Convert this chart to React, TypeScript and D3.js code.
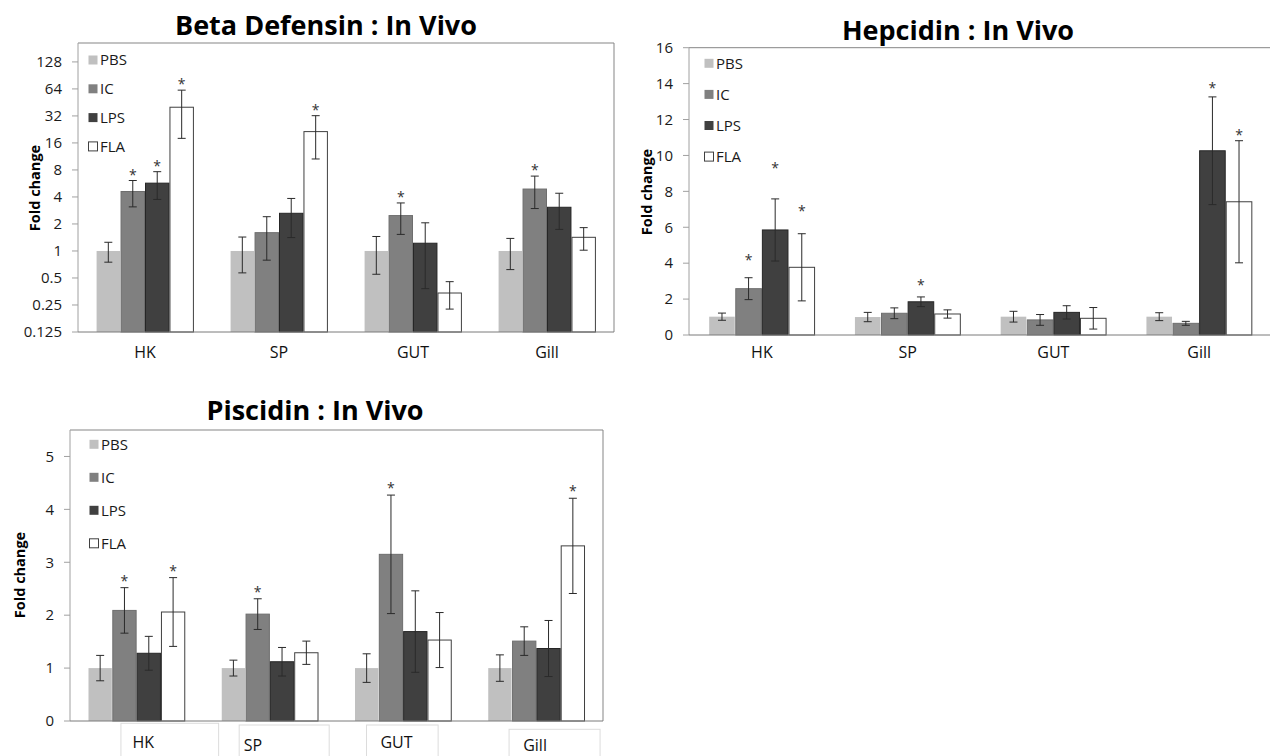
import * as d3 from 'd3'

const categories = ['HK', 'SP', 'GUT', 'Gill']
const treatments = ['PBS', 'IC', 'LPS', 'FLA']
const fills = ['#c0c0c0', '#808080', '#404040', '#ffffff']
const strokes = ['none', '#6e6e6e', '#262626', '#404040']

// Beta defensin (log2 axis)
const betaPBS = [1.0, 1.0, 1.0, 1.0]
const betaPBSErr = [0.25, 0.43, 0.45, 0.38]
const betaIC = [4.6, 1.6, 2.48, 4.9]
const betaICErr = [1.5, 0.81, 0.95, 1.93]
const betaLPS = [5.7, 2.63, 1.22, 3.07]
const betaLPSErr = [1.95, 1.22, 0.84, 1.33]
const betaFLA = [40, 21.4, 0.34, 1.42]
const betaFLAErr = [22, 10.8, 0.115, 0.4]
const betaSigIC = ['HK', 'GUT', 'Gill']
const betaSigLPS = ['HK']
const betaSigFLA = ['HK', 'SP']
const betaTicks = [0.125, 0.25, 0.5, 1, 2, 4, 8, 16, 32, 64, 128]

// Hepcidin
const hepPBS = [1.02, 1.0, 1.02, 1.02]
const hepPBSErr = [0.2, 0.26, 0.3, 0.22]
const hepIC = [2.58, 1.21, 0.84, 0.65]
const hepICErr = [0.61, 0.3, 0.3, 0.11]
const hepLPS = [5.85, 1.85, 1.26, 10.26]
const hepLPSErr = [1.73, 0.27, 0.37, 3.0]
const hepFLA = [3.77, 1.17, 0.93, 7.42]
const hepFLAErr = [1.87, 0.23, 0.6, 3.4]
// level (fold change) at which each asterisk sits
const hepStarIC = [4.36, null, null, null]
const hepStarLPS = [9.47, 2.97, null, 13.9]
const hepStarFLA = [7.07, null, null, 11.3]
const hepTicks = [0, 2, 4, 6, 8, 10, 12, 14, 16]

// Piscidin
const piscPBS = [1.0, 1.0, 1.0, 1.0]
const piscPBSErr = [0.24, 0.15, 0.27, 0.25]
const piscIC = [2.09, 2.02, 3.15, 1.51]
const piscICErr = [0.43, 0.29, 1.12, 0.27]
const piscLPS = [1.28, 1.12, 1.69, 1.37]
const piscLPSErr = [0.32, 0.27, 0.77, 0.53]
const piscFLA = [2.06, 1.29, 1.53, 3.31]
const piscFLAErr = [0.65, 0.22, 0.52, 0.9]
const piscSigIC = ['HK', 'SP', 'GUT']
const piscSigFLA = ['HK', 'Gill']
const piscTicks = [0, 1, 2, 3, 4, 5]

const FONT = "'Open Sans', sans-serif"

type Series = { mean: number[]; err: number[]; star: (number | null | boolean)[] }

type PanelProps = {
  title: string
  titleX: number
  titleY: number
  box: { x0: number; x1: number; y0: number; y1: number }
  y: any
  ticks: number[]
  series: Series[]
  legend: { x: number; y: number; step: number }
  ylab: { x: number; y: number }
  xlabY: number
  starMode: 'offset' | 'level'
  starOffset?: number
  labelNudge?: { dx: number; dy: number; box?: [number, number, number] }[]
}

const flags = (sig: string[]) => categories.map((c) => sig.includes(c))

function Panel(p: PanelProps) {
  const { x0, x1, y0, y1 } = p.box
  const xOuter = d3.scaleBand().domain(categories).range([x0, x1]).paddingInner(0.27).paddingOuter(0.135)
  const xInner = d3.scaleBand().domain(treatments).range([0, xOuter.bandwidth()])
  const y = p.y
  const yMin = y.domain()[0]
  const cap = 4

  return (
    <g fontFamily={FONT}>
      <text x={p.titleX} y={p.titleY} textAnchor="middle" fontSize={27} fontWeight="bold" fill="#000">
        {p.title}
      </text>
      {/* frame */}
      <line x1={x0} x2={x1} y1={y0} y2={y0} stroke="#858585" />
      <line x1={x1} x2={x1} y1={y0} y2={y1} stroke="#858585" />
      <line x1={x0} x2={x0} y1={y0} y2={y1} stroke="#a0a0a0" />
      {p.ticks.map((t) => (
        <g key={t}>
          <line x1={x0 - 6} x2={x0} y1={y(t)} y2={y(t)} stroke="#a0a0a0" />
          <text x={x0 - 16} y={y(t)} dy="0.35em" textAnchor="end" fontSize={15} fill="#1a1a1a">
            {String(t)}
          </text>
        </g>
      ))}
      <text
        transform={`translate(${p.ylab.x},${p.ylab.y}) rotate(-90)`}
        textAnchor="middle"
        dominantBaseline="central"
        fontSize={14.5}
        fontWeight="bold"
        fill="#000"
      >
        Fold change
      </text>
      {/* bars */}
      {categories.map((c, ci) => (
        <g key={c}>
          {treatments.map((t, ti) => {
            const s = p.series[ti]
            const m = s.mean[ci]
            const e = s.err[ci]
            const bx = (xOuter(c) as number) + (xInner(t) as number)
            const bw = xInner.bandwidth()
            const cx = bx + bw / 2
            const top = y(m)
            const eHi = y(m + e)
            const eLo = y(Math.max(m - e, yMin))
            const st = s.star[ci]
            let starY: number | null = null
            if (p.starMode === 'level' && typeof st === 'number') starY = y(st) + 8
            if (p.starMode === 'offset' && st === true) starY = eHi - (p.starOffset ?? 1)
            return (
              <g key={t}>
                <rect
                  x={bx + 0.5}
                  y={top}
                  width={bw - 1}
                  height={y1 - top}
                  fill={fills[ti]}
                  stroke={strokes[ti]}
                  strokeWidth={1}
                />
                <line x1={cx} x2={cx} y1={eHi} y2={eLo} stroke="#2a2a2a" />
                <line x1={cx - cap} x2={cx + cap} y1={eHi} y2={eHi} stroke="#2a2a2a" />
                <line x1={cx - cap} x2={cx + cap} y1={eLo} y2={eLo} stroke="#2a2a2a" />
                {starY !== null && (
                  <text x={cx} y={starY} textAnchor="middle" fontSize={14} fill="#333">
                    *
                  </text>
                )}
              </g>
            )
          })}
        </g>
      ))}
      <line x1={x0} x2={x1} y1={y1} y2={y1} stroke="#7a7a7a" />
      {/* category labels */}
      {categories.map((c, ci) => {
        const cx = (xOuter(c) as number) + xOuter.bandwidth() / 2
        const n = p.labelNudge ? p.labelNudge[ci] : { dx: 0, dy: 0 }
        return (
          <g key={c}>
            {n.box && (
              <rect
                x={cx + n.box[0]}
                y={y1 + n.box[2]}
                width={n.box[1] - n.box[0]}
                height={60}
                fill="none"
                stroke="#dcdcdc"
              />
            )}
            <text x={cx + n.dx} y={p.xlabY + n.dy} textAnchor="middle" fontSize={16} fill="#111">
              {c}
            </text>
          </g>
        )
      })}
      {/* legend */}
      {treatments.map((t, ti) => {
        const ly = p.legend.y + ti * p.legend.step
        return (
          <g key={t}>
            <rect
              x={p.legend.x + 0.5}
              y={ly - 4.5}
              width={9}
              height={9}
              fill={fills[ti]}
              stroke={ti === 3 ? '#404040' : 'none'}
            />
            <text x={p.legend.x + 12} y={ly} dy="0.35em" fontSize={15} fill="#1a1a1a">
              {t}
            </text>
          </g>
        )
      })}
    </g>
  )
}

export default function App() {
  const betaY = d3.scaleLog().base(2).domain([0.125, Math.pow(2, 7.7)]).range([332, 43])
  const hepY = d3.scaleLinear().domain([0, 16]).range([335, 47.7])
  const piscY = d3.scaleLinear().domain([0, 5.5]).range([721, 430])

  const betaSeries: Series[] = [
    { mean: betaPBS, err: betaPBSErr, star: flags([]) },
    { mean: betaIC, err: betaICErr, star: flags(betaSigIC) },
    { mean: betaLPS, err: betaLPSErr, star: flags(betaSigLPS) },
    { mean: betaFLA, err: betaFLAErr, star: flags(betaSigFLA) },
  ]
  const hepSeries: Series[] = [
    { mean: hepPBS, err: hepPBSErr, star: [null, null, null, null] },
    { mean: hepIC, err: hepICErr, star: hepStarIC },
    { mean: hepLPS, err: hepLPSErr, star: hepStarLPS },
    { mean: hepFLA, err: hepFLAErr, star: hepStarFLA },
  ]
  const piscSeries: Series[] = [
    { mean: piscPBS, err: piscPBSErr, star: flags([]) },
    { mean: piscIC, err: piscICErr, star: flags(piscSigIC) },
    { mean: piscLPS, err: piscLPSErr, star: flags([]) },
    { mean: piscFLA, err: piscFLAErr, star: flags(piscSigFLA) },
  ]

  return (
    <svg
      width={1270}
      height={756}
      style={{ position: 'absolute', left: 0, top: 0, background: '#fff', display: 'block' }}
    >
      <rect width={1270} height={756} fill="#fff" />
      <Panel
        title="Beta Defensin : In Vivo"
        titleX={326}
        titleY={35}
        box={{ x0: 78, x1: 614, y0: 43, y1: 332 }}
        y={betaY}
        ticks={betaTicks}
        series={betaSeries}
        legend={{ x: 88, y: 60, step: 28.8 }}
        ylab={{ x: 34, y: 188 }}
        xlabY={358}
        starMode="offset"
        starOffset={1}
      />
      <Panel
        title="Hepcidin : In Vivo"
        titleX={958}
        titleY={40}
        box={{ x0: 689, x1: 1272, y0: 47.7, y1: 335 }}
        y={hepY}
        ticks={hepTicks}
        series={hepSeries}
        legend={{ x: 704, y: 63.3, step: 31.1 }}
        ylab={{ x: 646, y: 192 }}
        xlabY={358}
        starMode="level"
      />
      <Panel
        title="Piscidin : In Vivo"
        titleX={315}
        titleY={420}
        box={{ x0: 70, x1: 603, y0: 430, y1: 721 }}
        y={piscY}
        ticks={piscTicks}
        series={piscSeries}
        legend={{ x: 89, y: 444.3, step: 33 }}
        ylab={{ x: 19, y: 575 }}
        xlabY={748}
        starMode="offset"
        starOffset={2}
        labelNudge={[
          { dx: 6.6, dy: 0, box: [-15.7, 82, 2.3] },
          { dx: -17, dy: 2.5, box: [-30.7, 59.3, 4] },
          { dx: -6.6, dy: 0, box: [-36.6, 35, 4] },
          { dx: -1.3, dy: 3, box: [-27.3, 63.7, 8.3] },
        ]}
      />
    </svg>
  )
}
